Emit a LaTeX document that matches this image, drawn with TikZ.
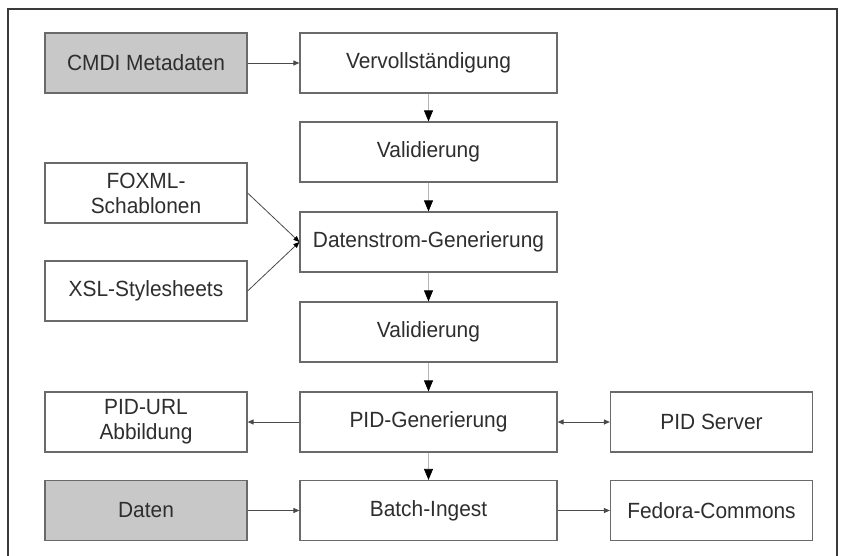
\documentclass[tikz,border=0pt]{standalone}
\usepackage{fontspec}
\setmainfont{Liberation Sans}[FakeStretch=0.95]
\usetikzlibrary{arrows.meta}
\definecolor{boxline}{HTML}{6A6A6A}
\definecolor{txt}{HTML}{2E2E2E}
\definecolor{greyfill}{HTML}{C8C8C8}
\definecolor{frameline}{HTML}{3A3A3A}
\definecolor{hline}{HTML}{4A4A4A}
\definecolor{vline}{HTML}{B4B4B4}
\begin{document}
\begin{tikzpicture}[x=1pt,y=-1pt,
  box/.style={draw=boxline, line width=1.2pt, fill=white, text=txt,
    font=\fontsize{22}{25}\selectfont, align=center, inner sep=0pt,
    minimum height=60pt},
  widebox/.style={box, minimum width=257pt},
  sidebox/.style={box, minimum width=202pt},
  greybox/.style={fill=greyfill},
  harrow/.style={draw=hline, line width=1pt, -{Triangle[length=6pt,width=5pt]}},
  dharrow/.style={draw=hline, line width=1pt, {Triangle[length=6pt,width=5pt]}-{Triangle[length=6pt,width=5pt]}},
  varrow/.style={draw=vline, line width=0.8pt, -{Triangle[length=11pt,width=9pt,color=black]}},
  darrow/.style={draw=hline, line width=0.8pt, -{Triangle[length=6pt,width=5pt,color=black]}}
]
\clip (0,0) rectangle (846,555);
\useasboundingbox (0,0) rectangle (846,555);
\fill[white] (0,0) rectangle (846,555);
\draw[frameline, line width=1.2pt] (8,600) -- (8,9) -- (837,9) -- (837,600);

\node[sidebox, greybox] (cmdi) at (146,63) {CMDI Metadaten};
\node[widebox] (verv) at (428.5,63) {Vervollständigung};
\node[widebox] (val1) at (428.5,152) {Validierung};
\node[sidebox] (foxml) at (146,193) {FOXML-\\Schablonen};
\node[widebox] (dsgen) at (428.5,242) {Datenstrom-Generierung};
\node[sidebox] (xsl) at (146,291) {XSL-Stylesheets};
\node[widebox] (val2) at (428.5,332) {Validierung};
\node[sidebox] (pidurl) at (146,422) {PID-URL\\Abbildung};
\node[widebox] (pidgen) at (428.5,422) {PID-Generierung};
\node[sidebox] (pidsrv) at (711.5,422) {PID Server};
\node[sidebox, greybox] (daten) at (146,510.5) {Daten};
\node[widebox] (batch) at (428.5,510.5) {Batch-Ingest};
\node[sidebox] (fedora) at (711.5,510.5) {Fedora-Commons};

\draw[harrow] (cmdi) -- (verv);
\draw[varrow] (verv) -- (val1);
\draw[varrow] (val1) -- (dsgen);
\draw[varrow] (dsgen) -- (val2);
\draw[varrow] (val2) -- (pidgen);
\draw[varrow] (pidgen) -- (batch);
\draw[darrow] (foxml.east) -- (dsgen.west);
\draw[darrow] (xsl.east) -- (dsgen.west);
\draw[harrow] (pidgen) -- (pidurl);
\draw[dharrow] (pidgen) -- (pidsrv);
\draw[harrow] (daten) -- (batch);
\draw[harrow] (batch) -- (fedora);
\end{tikzpicture}
\end{document}
